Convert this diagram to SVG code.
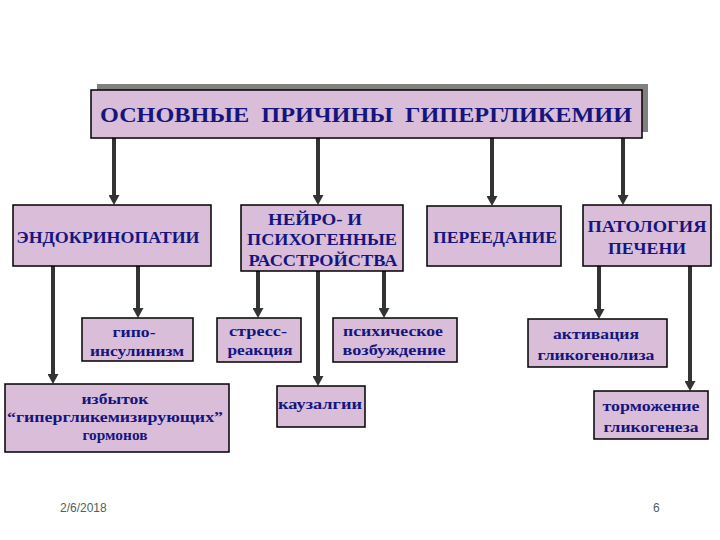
<svg xmlns="http://www.w3.org/2000/svg" width="720" height="540" viewBox="0 0 720 540">
<style>
.box{fill:#d9bdd9;stroke:#000;stroke-width:1.5}
.t{font-family:'Liberation Serif','DejaVu Serif',serif;font-weight:bold;fill:#15157e;text-anchor:middle}
.h{font-size:16px}
.s{font-size:15px}
.c{stroke:#333;stroke-width:4;fill:none;marker-end:url(#ah)}
.f{font-family:'Liberation Sans',Arial,sans-serif;font-size:12px;fill:#4f5f5f}
</style>
<defs>
<marker id="ah" markerUnits="userSpaceOnUse" markerWidth="11" markerHeight="11" refX="4" refY="5.5" orient="auto">
<path d="M0,0 L10,5.5 L0,11 z" fill="#333"/>
</marker>
</defs>
<rect width="720" height="540" fill="#fff"/>
<g id="connectors">
<line class="c" x1="114" y1="138" x2="114" y2="199"/>
<line class="c" x1="318" y1="138" x2="318" y2="199"/>
<line class="c" x1="492" y1="138" x2="492" y2="200"/>
<line class="c" x1="623" y1="138" x2="623" y2="199"/>
<line class="c" x1="53" y1="266" x2="53" y2="378"/>
<line class="c" x1="138" y1="266" x2="138" y2="312"/>
<line class="c" x1="258" y1="271" x2="258" y2="312"/>
<line class="c" x1="318" y1="271" x2="318" y2="380"/>
<line class="c" x1="384" y1="271" x2="384" y2="312"/>
<line class="c" x1="599" y1="266" x2="599" y2="313"/>
<line class="c" x1="690" y1="266" x2="690" y2="385"/>
</g>
<g id="title">
<rect x="97" y="84" width="551" height="48" fill="#808080"/>
<rect class="box" x="91" y="90" width="551" height="48"/>
<text class="t" x="366" y="122" font-size="22" textLength="532" lengthAdjust="spacingAndGlyphs" xml:space="preserve">ОСНОВНЫЕ  ПРИЧИНЫ  ГИПЕРГЛИКЕМИИ</text>
</g>
<g id="endo">
<rect class="box" x="13" y="205" width="198" height="61"/>
<text class="t h" x="108" y="243" textLength="183" lengthAdjust="spacingAndGlyphs">ЭНДОКРИНОПАТИИ</text>
</g>
<g id="neuro">
<rect class="box" x="241" y="205" width="162" height="66"/>
<text class="t h" x="315" y="225" textLength="94" lengthAdjust="spacingAndGlyphs">НЕЙРО- И</text>
<text class="t h" x="322" y="245" textLength="150" lengthAdjust="spacingAndGlyphs">ПСИХОГЕННЫЕ</text>
<text class="t h" x="323" y="266" textLength="149" lengthAdjust="spacingAndGlyphs">РАССТРОЙСТВА</text>
</g>
<g id="pereedanie">
<rect class="box" x="427" y="206" width="134" height="60"/>
<text class="t h" x="495" y="243" textLength="124" lengthAdjust="spacingAndGlyphs">ПЕРЕЕДАНИЕ</text>
</g>
<g id="patologiya">
<rect class="box" x="583" y="205" width="128" height="61"/>
<text class="t h" x="647" y="232" textLength="119" lengthAdjust="spacingAndGlyphs">ПАТОЛОГИЯ</text>
<text class="t h" x="647" y="254" textLength="78" lengthAdjust="spacingAndGlyphs">ПЕЧЕНИ</text>
</g>
<g id="gipo">
<rect class="box" x="82" y="318" width="111" height="43"/>
<text class="t s" x="134" y="337" textLength="43" lengthAdjust="spacingAndGlyphs">гипо-</text>
<text class="t s" x="137" y="356" textLength="94" lengthAdjust="spacingAndGlyphs">инсулинизм</text>
</g>
<g id="stress">
<rect class="box" x="217" y="318" width="84" height="44"/>
<text class="t s" x="258" y="336" textLength="58" lengthAdjust="spacingAndGlyphs">стресс-</text>
<text class="t s" x="260" y="355" textLength="65" lengthAdjust="spacingAndGlyphs">реакция</text>
</g>
<g id="psych">
<rect class="box" x="333" y="318" width="124" height="44"/>
<text class="t s" x="393" y="336" textLength="100" lengthAdjust="spacingAndGlyphs">психическое</text>
<text class="t s" x="394" y="355" textLength="103" lengthAdjust="spacingAndGlyphs">возбуждение</text>
</g>
<g id="aktiv">
<rect class="box" x="528" y="319" width="139" height="48"/>
<text class="t s" x="596" y="339" textLength="86" lengthAdjust="spacingAndGlyphs">активация</text>
<text class="t s" x="596" y="360" textLength="117" lengthAdjust="spacingAndGlyphs">гликогенолиза</text>
</g>
<g id="izbytok">
<rect class="box" x="5" y="384" width="224" height="68"/>
<text class="t s" x="115" y="404" textLength="67" lengthAdjust="spacingAndGlyphs">избыток</text>
<text class="t s" x="115" y="422" textLength="216" lengthAdjust="spacingAndGlyphs">“гипергликемизирующих”</text>
<text class="t s" x="115" y="440" textLength="65" lengthAdjust="spacingAndGlyphs">гормонов</text>
</g>
<g id="kauzalgii">
<rect class="box" x="277" y="386" width="88" height="41"/>
<text class="t s" x="320" y="409" textLength="84" lengthAdjust="spacingAndGlyphs">каузалгии</text>
</g>
<g id="tormozh">
<rect class="box" x="594" y="391" width="114" height="48"/>
<text class="t s" x="651" y="411" textLength="97" lengthAdjust="spacingAndGlyphs">торможение</text>
<text class="t s" x="651" y="432" textLength="95" lengthAdjust="spacingAndGlyphs">гликогенеза</text>
</g>
<text class="f" x="60" y="512">2/6/2018</text>
<text class="f" x="653" y="512">6</text>
</svg>
